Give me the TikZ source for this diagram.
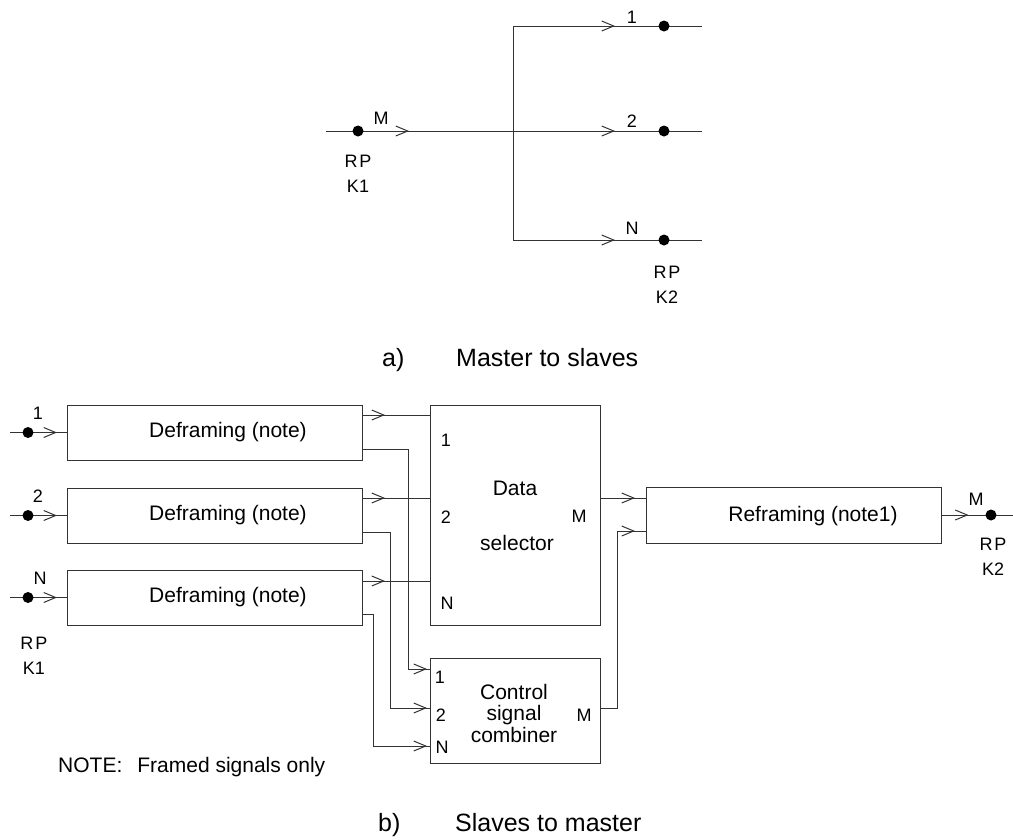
\documentclass[tikz,border=0pt]{standalone}
\usepackage{fontspec}
\setmainfont{Liberation Sans}
\usetikzlibrary{arrows.meta,decorations.markings}

\tikzset{
  wire/.style={draw=black!80, line width=1pt},
  blk/.style={draw=black!80, line width=1pt, inner sep=0pt},
  dot/.style={circle, fill=black, inner sep=0pt, minimum size=11pt},
  chevat/.style={postaction={decorate},
    decoration={markings, mark=at position #1 with {\arrow{Straight Barb[length=12pt,width=10pt,line width=1pt]}}}},
  lbl/.style={inner sep=0.75pt, font=\fontsize{18}{25}\selectfont, align=center},
  boxtxt/.style={inner sep=0.75pt, font=\fontsize{21}{21.5}\selectfont, align=center},
  captxt/.style={inner sep=0pt, anchor=base west, font=\fontsize{25}{25}\selectfont},
}

\begin{document}
\begin{tikzpicture}[x=1pt,y=1pt,yscale=-1,xscale=1]
\useasboundingbox (0,0) rectangle (1013,839);

%%% a) Master to slaves
% points
\coordinate (ain) at (326,131);
\coordinate (abus1) at (513,26);
\coordinate (abus2) at (513,131);
\coordinate (abusN) at (513,240);
\coordinate (aout1) at (702,26);
\coordinate (aout2) at (702,131);
\coordinate (aoutN) at (702,240);

% Straight Lines
\draw [wire, chevat=83pt] (ain) -- (abus2);
\draw [wire] (abus1) -- (abusN);
\draw [wire, chevat=102pt] (abus1) -- (aout1);
\draw [wire, chevat=102pt] (abus2) -- (aout2);
\draw [wire, chevat=102pt] (abusN) -- (aoutN);

% Circles
\node [dot] (ak1) at (358,131) {};
\node [dot] (ak21) at (664,26) {};
\node [dot] (ak22) at (664,131) {};
\node [dot] (ak2N) at (664,240) {};

% Text Node
\node [lbl] (alm) at (381,118) {M};
\node [lbl] (al1) at (632,17) {1};
\node [lbl] (al2) at (632,121) {2};
\node [lbl] (alN) at (632,228) {N};
\node [lbl] (arpk1) at (358,174) {R\kern2pt P\\K1};
\node [lbl] (arpk2) at (667,285) {R\kern2pt P\\K2};
\node [captxt] (acapa) at (382,366) {a)};
\node [captxt] (acapb) at (456,366) {Master to slaves};

%%% b) Slaves to master
% Shape: Rectangle
\node [blk, minimum width=295, minimum height=55] (def1) at (214.5,432.5) {};
\node [blk, minimum width=295, minimum height=55] (def2) at (214.5,515.5) {};
\node [blk, minimum width=295, minimum height=55] (def3) at (214.5,597.5) {};
\node [blk, minimum width=170, minimum height=220] (dsel) at (515,515) {};
\node [blk, minimum width=170, minimum height=105] (ccomb) at (515,710.5) {};
\node [blk, minimum width=295, minimum height=56] (refr) at (793.5,515) {};

% ports
\coordinate (bin1) at (10,432.5);
\coordinate (bin2) at (10,515.5);
\coordinate (bin3) at (10,597.5);
\coordinate (d1hi) at (362,415);
\coordinate (d2hi) at (362,498);
\coordinate (d3hi) at (362,581);
\coordinate (d1lo) at (362,449);
\coordinate (d2lo) at (362,532);
\coordinate (d3lo) at (362,614);
\coordinate (ds1) at (430,415);
\coordinate (ds2) at (430,498);
\coordinate (dsN) at (430,581);
\coordinate (dsm) at (600,498);
\coordinate (cc1) at (430,669);
\coordinate (cc2) at (430,708);
\coordinate (ccN) at (430,746);
\coordinate (ccm) at (600,708);
\coordinate (rf1) at (646,498);
\coordinate (rf2) at (646,531);
\coordinate (bout) at (1013,515);

% Straight Lines
\draw [wire, chevat=47pt] (bin1) -- (def1.west);
\draw [wire, chevat=47pt] (bin2) -- (def2.west);
\draw [wire, chevat=47pt] (bin3) -- (def3.west);
\draw [wire, chevat=23pt] (d1hi) -- (ds1);
\draw [wire, chevat=23pt] (d2hi) -- (ds2);
\draw [wire, chevat=23pt] (d3hi) -- (dsN);
\draw [wire, chevat=-3pt] (d1lo) -- ++(46,0) |- (cc1);
\draw [wire, chevat=-3pt] (d2lo) -- ++(28,0) |- (cc2);
\draw [wire, chevat=-3pt] (d3lo) -- ++(11,0) |- (ccN);
\draw [wire, chevat=-11pt] (dsm) -- (rf1);
\draw [wire, chevat=-11pt] (ccm) -- ++(17,0) |- (rf2);
\draw [wire, chevat=27pt] (refr.east) -- (bout);

% Circles
\node [dot] (bk11) at (28,432.5) {};
\node [dot] (bk12) at (28,515.5) {};
\node [dot] (bk1N) at (28,597.5) {};
\node [dot] (bk2) at (991,515) {};

% Text Node
\node [lbl] (bl1) at (38,413) {1};
\node [lbl] (bl2) at (38,496) {2};
\node [lbl] (blN) at (40,578) {N};
\node [lbl] (brpk1) at (34,656) {R\kern2pt P\\K1};
\node [lbl] (blm) at (976,499) {M};
\node [lbl] (brpk2) at (993,557) {R\kern2pt P\\K2};

\node [boxtxt] (tdef1) at (228,432.5) {Deframing (note)};
\node [boxtxt] (tdef2) at (228,515.5) {Deframing (note)};
\node [boxtxt] (tdef3) at (228,597.5) {Deframing (note)};
\node [boxtxt] (tref) at (813,516) {Reframing (note1)};

\node [lbl] (tds1) at (446,440) {1};
\node [lbl] (tds2) at (446,517) {2};
\node [lbl] (tdsN) at (447,603) {N};
\node [lbl] (tdsm) at (579,516) {M};
\node [boxtxt] (tdsa) at (515,488) {Data};
\node [boxtxt] (tdsb) at (517,543) {selector};

\node [lbl] (tcc1) at (440,677) {1};
\node [lbl] (tcc2) at (441,715) {2};
\node [lbl] (tccN) at (442,747) {N};
\node [lbl] (tccm) at (584,715) {M};
\node [boxtxt] (tcc) at (514,713) {Control\\signal\\combiner};

\node [inner sep=0pt, anchor=base west, font=\fontsize{21}{21}\selectfont] (bnote) at (58,772) {NOTE:\hspace{15pt}Framed signals only};
\node [captxt] (bcapa) at (378,831) {b)};
\node [captxt] (bcapb) at (455,831) {Slaves to master};
\end{tikzpicture}
\end{document}
